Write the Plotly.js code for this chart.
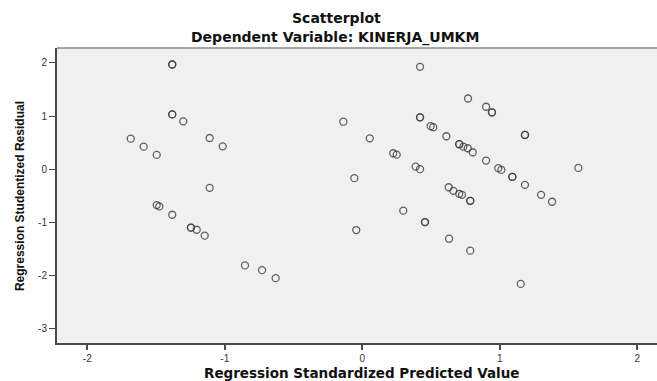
<!DOCTYPE html>
<html>
<head>
<meta charset="utf-8">
<script src="https://cdn.plot.ly/plotly-3.0.1.min.js"></script>
<style>html,body{margin:0;padding:0;background:#fff;}#chart{width:657px;height:381px;}</style>
</head>
<body>
<div id="chart"></div>
<script>
// Regression standardized predicted value (x) and studentized residual (y)
const predictedValues = [
  -1.382, -1.382, -1.382, -1.382, -1.302, -1.684, -1.590, -1.495, -1.110, -1.015,
  -1.110, -1.495, -1.476, -1.382, -1.246, -1.246, -1.204, -1.146,
  -0.853, -0.729, -0.630, -0.138, 0.054, 0.225, 0.250, 0.388, 0.420,
  -0.058, -0.044, 0.298, 0.456, 0.456,
  0.420, 0.420, 0.420, 0.497, 0.516, 0.611, 0.705, 0.705, 0.735, 0.767, 0.803,
  0.769, 0.900, 0.943, 0.943, 1.183, 1.183, 0.900, 0.989, 1.011, 1.091, 1.091,
  1.183, 1.571, 1.300, 1.380, 0.628, 0.662, 0.705, 0.725, 0.785, 0.785,
  0.631, 0.785, 1.152
];
const residualValues = [
  1.97, 1.97, 1.03, 1.03, 0.90, 0.574, 0.424, 0.268, 0.587, 0.43,
  -0.351, -0.675, -0.70, -0.857, -1.10, -1.10, -1.139, -1.251,
  -1.81, -1.90, -2.05, 0.893, 0.58, 0.30, 0.274, 0.049, 0.0,
  -0.169, -1.145, -0.78, -0.995, -0.995,
  1.925, 0.976, 0.976, 0.81, 0.79, 0.62, 0.47, 0.47, 0.424, 0.394, 0.319,
  1.33, 1.175, 1.07, 1.07, 0.644, 0.644, 0.162, 0.019, -0.013, -0.144, -0.144,
  -0.295, 0.024, -0.482, -0.613, -0.34, -0.407, -0.463, -0.482, -0.595, -0.595,
  -1.308, -1.533, -2.158
];
const xTickValues = [-2, -1, 0, 1, 2];
const xTickLabels = ["-2", "-1", "0", "1", "2"];
const yTickValues = [-3, -2, -1, 0, 1, 2];
const yTickLabels = ["-3", "-2", "-1", "0", "1", "2"];
const chartTitle = "Scatterplot";
const chartSubtitle = "Dependent Variable: KINERJA_UMKM";
const xTitle = "Regression Standardized Predicted Value";
const yTitle = "Regression Studentized Residual";

const trace = {
  x: predictedValues,
  y: residualValues,
  type: "scatter",
  mode: "markers",
  marker: {symbol: "circle-open", size: 7, color: "rgba(60,60,60,0.8)", line: {width: 1.3}},
  hoverinfo: "skip"
};

function wideBold(size) {
  return {family: "DejaVu Sans, Arial, sans-serif", size: size, color: "#111"};
}

const layout = {
  width: 657, height: 381,
  margin: {l: 57, r: 0, t: 48, b: 38, pad: 0},
  paper_bgcolor: "#ffffff",
  plot_bgcolor: "#f0f0f0",
  showlegend: false,
  xaxis: {
    range: [-2.22, 2.143],
    tickvals: xTickValues, ticktext: xTickLabels,
    showgrid: false, zeroline: false,
    showline: true, linecolor: "#4a4a4a", linewidth: 2,
    ticks: "outside", ticklen: 5, tickwidth: 2, tickcolor: "#4a4a4a",
    tickfont: {family: "Liberation Sans, Arial, sans-serif", size: 10, color: "#333"}
  },
  yaxis: {
    range: [-3.27, 2.28],
    tickvals: yTickValues, ticktext: yTickLabels,
    showgrid: false, zeroline: false,
    showline: true, linecolor: "#4a4a4a", linewidth: 2,
    ticks: "outside", ticklen: 6, tickwidth: 1, tickcolor: "#4a4a4a",
    tickfont: {family: "Liberation Sans, Arial, sans-serif", size: 10, color: "#333"}
  },
  shapes: [
    {type: "line", xref: "paper", yref: "paper", x0: 0, x1: 1, y0: 1, y1: 1,
     line: {color: "#888", width: 1.5}}
  ],
  annotations: [
    {text: "<b>" + chartTitle + "</b>", xref: "paper", yref: "paper", x: 0.465, y: 1.1017,
     xanchor: "center", yanchor: "middle", showarrow: false, font: wideBold(14)},
    {text: "<b>" + chartSubtitle + "</b>", xref: "paper", yref: "paper", x: 0.463, y: 1.0339,
     xanchor: "center", yanchor: "middle", showarrow: false, font: wideBold(14)},
    {text: "<b>" + xTitle + "</b>", xref: "paper", yref: "paper", x: 0.508, y: -0.1017,
     xanchor: "center", yanchor: "middle", showarrow: false, font: wideBold(13.5)},
    {text: "<b>" + yTitle + "</b>", xref: "paper", yref: "paper", x: -0.0617, y: 0.498,
     xanchor: "center", yanchor: "middle", showarrow: false, textangle: -90,
     font: {family: "Liberation Sans, Arial, sans-serif", size: 12, color: "#111"}}
  ]
};

Plotly.newPlot("chart", [trace], layout, {staticPlot: true, displayModeBar: false});
</script>
</body>
</html>
